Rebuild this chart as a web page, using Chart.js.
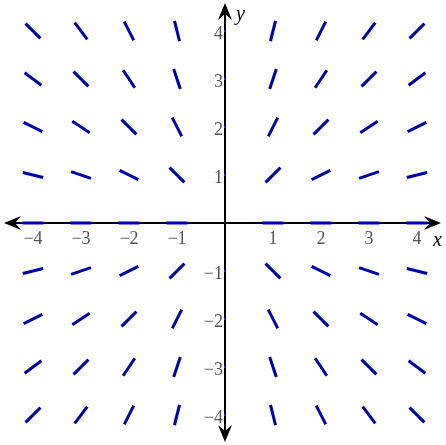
<!DOCTYPE html>
<html>
<head>
<meta charset="utf-8">
<script src="https://cdn.jsdelivr.net/npm/chart.js@4"></script>
<style>
  html, body { margin: 0; padding: 0; background: #fff; }
  #field { display: block; }
</style>
</head>
<body>
<canvas id="field" width="446" height="445"></canvas>
<script>
// grid where the slope marks sit
const gridX = [-4, -3, -2, -1, 1, 2, 3, 4];
const gridY = [4, 3, 2, 1, 0, -1, -2, -3, -4];
// slope dy/dx at each grid point, one row per gridY value
const slopes = [
  [-1, -4/3, -2, -4, 4, 2, 4/3, 1],
  [-3/4, -1, -3/2, -3, 3, 3/2, 1, 3/4],
  [-1/2, -2/3, -1, -2, 2, 1, 2/3, 1/2],
  [-1/4, -1/3, -1/2, -1, 1, 1/2, 1/3, 1/4],
  [0, 0, 0, 0, 0, 0, 0, 0],
  [1/4, 1/3, 1/2, 1, -1, -1/2, -1/3, -1/4],
  [1/2, 2/3, 1, 2, -2, -1, -2/3, -1/2],
  [3/4, 1, 3/2, 3, -3, -3/2, -1, -3/4],
  [1, 4/3, 2, 4, -4, -2, -4/3, -1]
];
// axis tick labels
const xTicks = [-4, -3, -2, -1, 1, 2, 3, 4];
const yTicks = [-4, -3, -2, -1, 1, 2, 3, 4];

const points = [];
const rotations = [];
gridY.forEach((y, r) => {
  gridX.forEach((x, c) => {
    points.push({ x: x, y: y });
    rotations.push(-Math.atan(slopes[r][c]) * 180 / Math.PI);
  });
});

const fmt = v => (v < 0 ? '\u2212' + Math.abs(v) : String(v));

// arrow head with a swept back edge
function arrow(ctx, tx, ty, dx, dy) {
  const len = 17, half = 7, back = 11;
  const px = -dy, py = dx;
  ctx.beginPath();
  ctx.moveTo(tx, ty);
  ctx.lineTo(tx - dx * len + px * half, ty - dy * len + py * half);
  ctx.lineTo(tx - dx * back, ty - dy * back);
  ctx.lineTo(tx - dx * len - px * half, ty - dy * len - py * half);
  ctx.closePath();
  ctx.fill();
}

const axesPlugin = {
  id: 'crossAxes',
  beforeDatasetsDraw(chart) {
    const ctx = chart.ctx;
    const sx = chart.scales.x, sy = chart.scales.y;
    const ox = sx.getPixelForValue(0), oy = sy.getPixelForValue(0);
    ctx.save();
    ctx.strokeStyle = '#000';
    ctx.fillStyle = '#000';
    ctx.lineWidth = 2;
    ctx.beginPath();
    ctx.moveTo(8, oy); ctx.lineTo(437, oy);
    ctx.moveTo(ox, 6); ctx.lineTo(ox, 439);
    ctx.stroke();
    arrow(ctx, 4, oy, -1, 0);
    arrow(ctx, 441, oy, 1, 0);
    arrow(ctx, ox, 3, 0, -1);
    arrow(ctx, ox, 442, 0, 1);

    ctx.font = '18px "Liberation Serif"';
    ctx.fillStyle = '#555';
    ctx.textAlign = 'center';
    ctx.textBaseline = 'top';
    xTicks.forEach(v => {
      const px = sx.getPixelForValue(v);
      ctx.fillText(fmt(v), px, oy + 7);
    });
    ctx.textAlign = 'right';
    ctx.textBaseline = 'middle';
    yTicks.forEach(v => {
      const py = sy.getPixelForValue(v);
      ctx.fillText(fmt(v), ox - 2, py + 3);
    });
    ctx.fillStyle = '#22c';
    yTicks.forEach(v => {
      const py = sy.getPixelForValue(v);
      ctx.fillRect(ox - 1, py - 1, 2, 2);
    });

    ctx.fillStyle = '#000';
    ctx.font = 'italic 20px "Liberation Serif"';
    ctx.textAlign = 'left';
    ctx.textBaseline = 'alphabetic';
    ctx.fillText('x', 433, 246);
    ctx.fillText('y', 236, 20);
    ctx.restore();
  }
};

new Chart(document.getElementById('field'), {
  type: 'scatter',
  data: {
    datasets: [{
      data: points,
      pointStyle: 'line',
      pointRadius: 10.5,
      pointBorderWidth: 3,
      pointBorderColor: '#0000a8',
      pointBackgroundColor: '#0000a8',
      pointRotation: rotations,
      showLine: false
    }]
  },
  options: {
    responsive: false,
    animation: false,
    events: [],
    layout: { padding: 0, autoPadding: false },
    plugins: { legend: { display: false }, tooltip: { enabled: false } },
    scales: {
      x: { type: 'linear', display: false, min: -225 / 48, max: 221 / 48 },
      y: { type: 'linear', display: false, min: -222 / 48, max: 223 / 48 }
    }
  },
  plugins: [axesPlugin]
});
</script>
</body>
</html>
